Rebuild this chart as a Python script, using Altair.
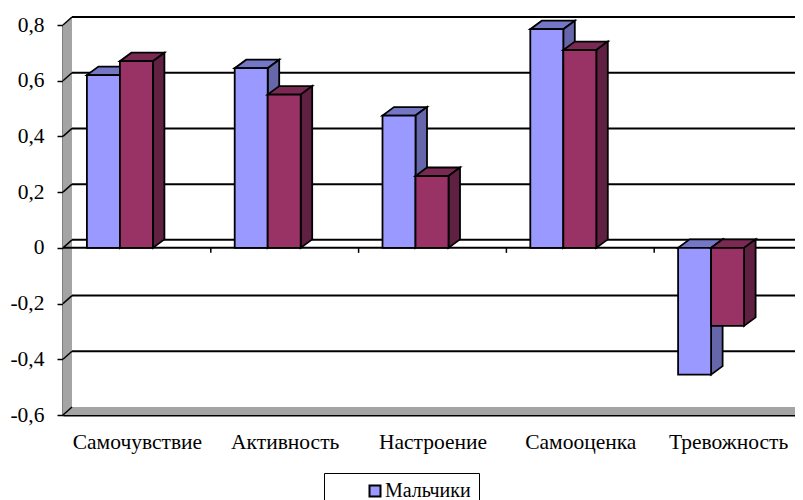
import json
import altair as alt
import pandas as pd

# ---------------- data ----------------
categories = ["Самочувствие", "Активность", "Настроение", "Самооценка", "Тревожность"]
series = ["Мальчики", "Девочки"]
boys = [0.62, 0.645, 0.475, 0.785, -0.455]
girls = [0.67, 0.55, 0.258, 0.71, -0.28]
y_ticks = [-0.6, -0.4, -0.2, 0, 0.2, 0.4, 0.6, 0.8]

# ---------------- style ----------------
front_colors = ["#9999FF", "#993366"]
top_colors = ["#7476C6", "#7A2952"]
side_colors = ["#6667AA", "#602041"]
FONT = "'Times New Roman', 'Liberation Serif', serif"
AXIS_FS = 21.5

W, H = 732, 390
Y_MIN, Y_MAX = -0.6, 0.8
CAT_PX = 147.8
X_MAX = W / CAT_PX
px_x = 1 / CAT_PX
px_y = (Y_MAX - Y_MIN) / H

WALL_DX, WALL_DY = 9 * px_x, 8 * px_y
BAR_W, BAR_START = 33 * px_x, -50 * px_x
BAR_DX, BAR_DY = 11.5 * px_x, 8.5 * px_y
X_END = X_MAX + 0.2

xs = alt.Scale(domain=[0, X_MAX], nice=False, zero=False)
ys = alt.Scale(domain=[Y_MIN, Y_MAX], nice=False, zero=False)

cat_expr = json.dumps(categories, ensure_ascii=False)
AX = alt.Axis(
    values=[i + 0.5 for i in range(len(categories))],
    labelExpr=f"{cat_expr}[round(datum.value - 0.5)]",
    ticks=False,
    grid=False,
    domain=True,
    domainColor="black",
    domainWidth=2,
    labelPadding=16,
    labelFont=FONT,
    labelFontSize=AXIS_FS,
    labelColor="black",
    labelOverlap=False,
    labelFlush=False,
    labelBound=False,
    title=None,
)
AY = alt.Axis(
    values=y_ticks,
    labelExpr="replace(toString(datum.value), '.', ',')",
    grid=False,
    domain=True,
    domainColor="black",
    domainWidth=2,
    ticks=True,
    tickSize=6,
    tickColor="black",
    tickWidth=1.5,
    labelPadding=13,
    labelFont=FONT,
    labelFontSize=AXIS_FS,
    labelColor="black",
    labelOverlap=False,
    labelFlush=False,
    labelBound=False,
    title=None,
)


def X(f):
    return alt.X(f, type="quantitative", scale=xs, axis=AX)


def Y(f):
    return alt.Y(f, type="quantitative", scale=ys, axis=AY, stack=None)


# ---------------- walls / grid ----------------
wall_rows = [
    dict(face="wall", x=0, y=Y_MIN, y2=Y_MAX),
    dict(face="wall", x=WALL_DX, y=Y_MIN + WALL_DY, y2=Y_MAX + WALL_DY),
    dict(face="floor", x=0, y=Y_MIN, y2=Y_MIN),
    dict(face="floor", x=WALL_DX, y=Y_MIN, y2=Y_MIN + WALL_DY),
    dict(face="floor", x=X_END, y=Y_MIN, y2=Y_MIN + WALL_DY),
]
walls = alt.Chart(pd.DataFrame(wall_rows)).mark_area(
    orient="vertical", color="#A4A4A4"
).encode(x=X("x"), y=Y("y"), y2="y2", detail="face:N")

grid_rows = [dict(x=WALL_DX, x2=X_END, y=v + WALL_DY) for v in y_ticks if v > Y_MIN]
grid = alt.Chart(pd.DataFrame(grid_rows)).mark_rule(color="black", strokeWidth=2).encode(
    x=X("x"), x2="x2", y=Y("y")
)
diag_rows = [dict(x=0, x2=WALL_DX, y=v, y2=v + WALL_DY) for v in y_ticks]
diags = alt.Chart(pd.DataFrame(diag_rows)).mark_rule(color="black", strokeWidth=1.5).encode(
    x=X("x"), x2="x2", y=Y("y"), y2="y2"
)
zero_line = alt.Chart(pd.DataFrame([dict(x=0, x2=X_END, y=0)])).mark_rule(
    color="black", strokeWidth=2
).encode(x=X("x"), x2="x2", y=Y("y"))
tick_rows = [dict(x=k, y=0, y2=-5 * px_y) for k in range(1, len(categories) + 1)]
zero_ticks = alt.Chart(pd.DataFrame(tick_rows)).mark_rule(color="black", strokeWidth=1.5).encode(
    x=X("x"), y=Y("y"), y2="y2"
)

# ---------------- bars ----------------
bar_layers = []
for s, vals in enumerate([boys, girls]):
    front, faces = [], []
    for i, v in enumerate(vals):
        c = i + 0.5
        x0 = c + BAR_START + s * BAR_W
        x1 = x0 + BAR_W
        top, bot = max(v, 0), min(v, 0)
        front.append(dict(series=series[s], x=x0, x2=x1, y=bot, y2=top))
        fid = f"{i}-top"
        faces += [
            dict(face=fid, fc=top_colors[s], x=x0, y=top, y2=top),
            dict(face=fid, fc=top_colors[s], x=x0 + BAR_DX, y=top, y2=top + BAR_DY),
            dict(face=fid, fc=top_colors[s], x=x1, y=top, y2=top + BAR_DY),
            dict(face=fid, fc=top_colors[s], x=x1 + BAR_DX, y=top + BAR_DY, y2=top + BAR_DY),
        ]
        sid = f"{i}-side"
        faces += [
            dict(face=sid, fc=side_colors[s], x=x1, y=bot, y2=top),
            dict(face=sid, fc=side_colors[s], x=x1 + BAR_DX, y=bot + BAR_DY, y2=top + BAR_DY),
        ]
    face_layer = alt.Chart(pd.DataFrame(faces)).mark_area(
        orient="vertical", stroke="black", strokeWidth=1.8, strokeJoin="miter"
    ).encode(
        x=X("x"), y=Y("y"), y2="y2", detail="face:N", fill=alt.Fill("fc:N", scale=None)
    )
    front_layer = alt.Chart(pd.DataFrame(front)).mark_rect(
        stroke="black", strokeWidth=1.8
    ).encode(
        x=X("x"),
        x2="x2",
        y=Y("y"),
        y2="y2",
        color=alt.Color(
            "series:N",
            scale=alt.Scale(domain=series, range=front_colors),
            legend=alt.Legend(
                title=None,
                orient="none",
                legendX=261,
                legendY=448,
                direction="vertical",
                symbolType="square",
                symbolSize=121,
                symbolStrokeColor="black",
                symbolStrokeWidth=2,
                symbolOffset=33,
                labelFont=FONT,
                labelFontSize=20,
                labelColor="black",
                labelOffset=0,
                labelExpr="datum.label + '" + "\u00a0" * 10 + "'",
                rowPadding=30,
                strokeColor="black",
                fillColor="white",
                padding=8,
            ),
        ),
    )
    bar_layers += [face_layer, front_layer]

chart = alt.layer(
    walls, grid, diags, zero_line, zero_ticks, *bar_layers
).properties(
    width=W,
    height=H,
    padding={"left": 55, "top": 17, "right": 0, "bottom": 85},
    autosize=alt.AutoSizeParams(type="none"),
).configure(background="white", font=FONT).configure_view(stroke=None)

chart.save("out.html", embed_options={"renderer": "svg", "actions": False})
